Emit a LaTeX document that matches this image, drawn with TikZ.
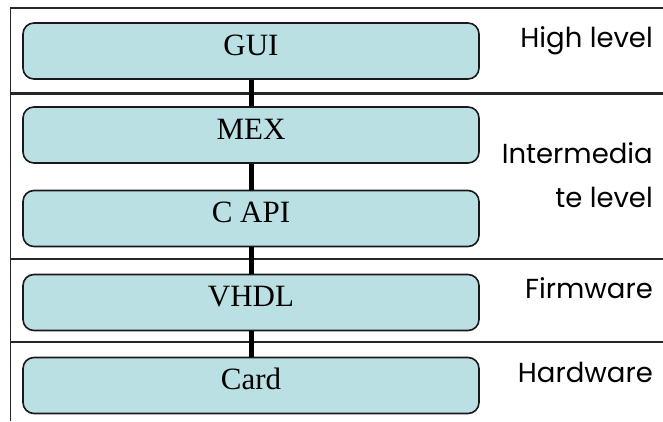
\documentclass[tikz,border=0pt]{standalone}
\usepackage{fontspec}
\setmainfont{Liberation Serif}
\newfontfamily\levelfont{Poppins}
\usepackage{tikz}
\usetikzlibrary{positioning}
\definecolor{layerfill}{RGB}{186,224,228}
\tikzset{
    layerbox/.style={
        draw=black!90, line width=1.6pt, fill=layerfill, rounded corners=11pt,
        minimum width=456pt, inner sep=0pt, text height=32pt, text depth=24pt,
        font=\fontsize{31}{31}\selectfont
    },
    levellabel/.style={
        anchor=base east, inner sep=0pt, align=right,
        font=\levelfont\fontsize{27.5}{44}\selectfont
    },
    frameline/.style={line width=1.5pt, black!85},
    link/.style={line width=5pt, black}
}

\begin{document}
\begin{tikzpicture}[x=1pt, y=-1pt]
    \useasboundingbox (0,0) rectangle (663,421);

    \draw[frameline] (10.5,421) -- (10.5,8) -- (663,8);
    \draw[frameline, line width=2.5pt] (10.5,93.5) -- (663,93.5);
    \draw[frameline] (10.5,259) -- (663,259);
    \draw[frameline] (10.5,342) -- (663,342);

    \node[layerbox] (GUI) at (251,51) {GUI};
    \node[layerbox] (MEX) at (251,135) {MEX};
    \node[layerbox] (CAPI) at (251,218.5) {C API};
    \node[layerbox] (VHDL) at (251,302.5) {VHDL};
    \node[layerbox] (CARD) at (251,385.5) {Card};

    \draw[link] (GUI) -- (MEX);
    \draw[link] (MEX) -- (CAPI);
    \draw[link] (CAPI) -- (VHDL);
    \draw[link] (VHDL) -- (CARD);

    % base of a two-line node is the last line
    \node[levellabel] (HIGH) at (653,47) {High level};
    \node[levellabel] (INTER) at (653,207) {Intermedia\\te level};
    \node[levellabel] (FIRM) at (653,298) {Firmware};
    \node[levellabel] (HARD) at (653,382) {Hardware};
\end{tikzpicture}
\end{document}
